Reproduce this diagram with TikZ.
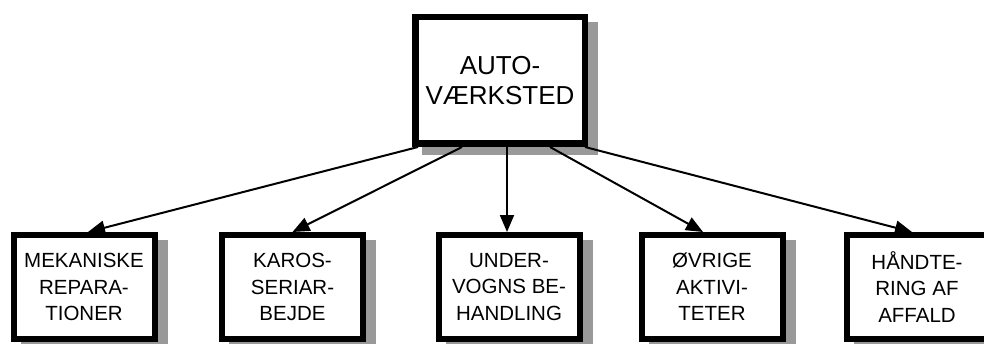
\documentclass[tikz,border=0pt]{standalone}
\usepackage{fontspec}
\setmainfont{Liberation Sans}
\usetikzlibrary{arrows.meta,backgrounds}
\tikzset{
    hoved/.style={draw,line width=6.5pt,fill=white,minimum width=169.5pt,minimum height=126.5pt,
                  align=center,font=\fontsize{26}{30}\selectfont},
    boks/.style={draw,line width=6pt,fill=white,minimum width=141pt,minimum height=104pt,
                 align=center,font=\fontsize{20.5}{26.5}\selectfont},
    skygge/.style={fill=black!40,draw=none},
    pil/.style={draw,line width=2pt,-{Triangle[length=17pt,width=14pt]}},
}
\begin{document}
\begin{tikzpicture}[x=1pt,y=1pt]
\useasboundingbox (0,0) rectangle (984,343);

\node[hoved] (auto) at (500,262.5) {AUTO-\\VÆRKSTED};

\node[boks] (meka) at (84,56)    {MEKANISKE\\REPARA-\\TIONER};
\node[boks] (karo) at (292.5,56) {KAROS-\\SERIAR-\\BEJDE};
\node[boks] (unde) at (509,56)   {UNDER-\\VOGNS BE-\\HANDLING};
\node[boks] (ovri) at (712,56)   {ØVRIGE\\AKTIVI-\\TETER};
\node[boks] (affa) at (917,56)   {HÅNDTE-\\RING AF\\AFFALD};

% skygger
\begin{pgfonlayer}{background}
\foreach \n in {auto,meka,karo,unde,ovri,affa}
    \fill[skygge] ([shift={(10pt,-8pt)}]\n.south west) rectangle ([shift={(10pt,-8pt)}]\n.north east);
\end{pgfonlayer}

\draw[pil] ([xshift=-82pt]auto.south) -- ([xshift=4pt]meka.north);
\draw[pil] ([xshift=-38pt]auto.south) -- (karo.north);
\draw[pil] ([xshift=7pt]auto.south)   -- ([xshift=-2pt]unde.north);
\draw[pil] ([xshift=50pt]auto.south)  -- ([xshift=-9pt]ovri.north);
\draw[pil] ([xshift=85pt]auto.south)  -- ([xshift=-5pt]affa.north);
\end{tikzpicture}
\end{document}
